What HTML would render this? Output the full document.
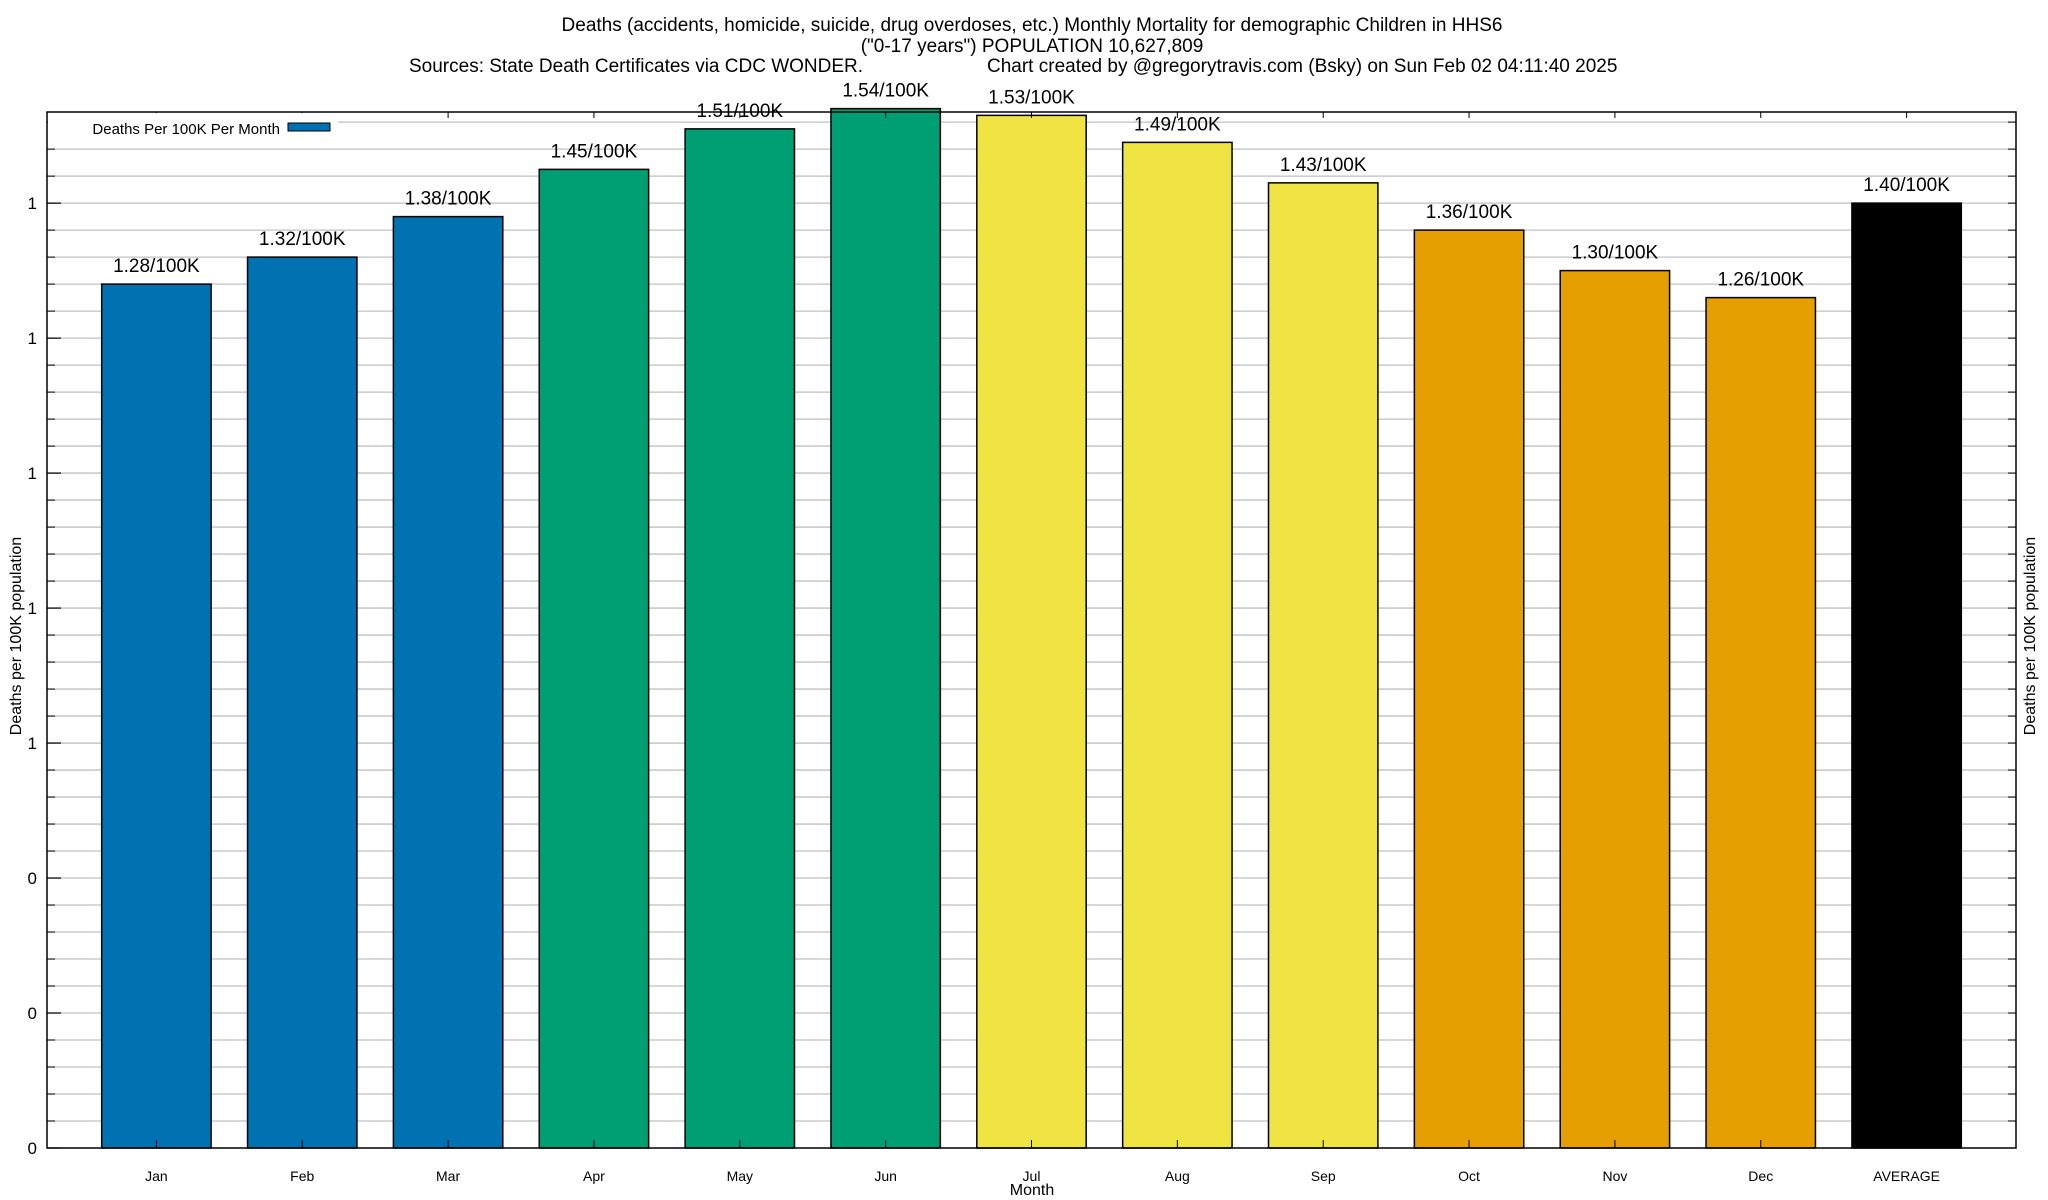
<!DOCTYPE html>
<html><head><meta charset="utf-8"><style>
html,body{margin:0;padding:0;background:#fff;}
svg{display:block;font-family:"Liberation Sans",Arial,sans-serif;}
</style></head><body>
<svg id="chart" width="2048" height="1200" viewBox="0 0 2048 1200">
<g font-size="19" fill="#000">
<text x="1032" y="31" text-anchor="middle">Deaths (accidents, homicide, suicide, drug overdoses, etc.) Monthly Mortality for demographic Children in HHS6</text>
<text x="1032" y="52" text-anchor="middle">("0-17 years") POPULATION 10,627,809</text>
<text x="409" y="72">Sources: State Death Certificates via CDC WONDER.</text>
<text x="987" y="72">Chart created by @gregorytravis.com (Bsky) on Sun Feb 02 04:11:40 2025</text>
</g>
<g id="grid"></g>
<g id="bars"></g>
<g id="axes"></g>
<rect x="48" y="113" width="290" height="22" fill="#fff"/>
<g>
<text x="280" y="134" font-size="15" text-anchor="end">Deaths Per 100K Per Month</text>
<rect x="288" y="123" width="42" height="8" fill="#0072b2" stroke="#000" stroke-width="1"/>
</g>
<text transform="translate(21,636) rotate(-90)" font-size="16" text-anchor="middle">Deaths per 100K population</text>
<text transform="translate(2035,636) rotate(-90)" font-size="16" text-anchor="middle">Deaths per 100K population</text>
<text x="1032" y="1195" font-size="16" text-anchor="middle">Month</text>
</svg>
<script>
const categories = ["Jan","Feb","Mar","Apr","May","Jun","Jul","Aug","Sep","Oct","Nov","Dec","AVERAGE"];
const values = [1.28,1.32,1.38,1.45,1.51,1.54,1.53,1.49,1.43,1.36,1.30,1.26,1.40];
const valueLabels = ["1.28/100K","1.32/100K","1.38/100K","1.45/100K","1.51/100K","1.54/100K","1.53/100K","1.49/100K","1.43/100K","1.36/100K","1.30/100K","1.26/100K","1.40/100K"];
const barColors = ["#0072b2","#0072b2","#0072b2","#009e73","#009e73","#009e73","#f0e442","#f0e442","#f0e442","#e69f00","#e69f00","#e69f00","#000000"];
const yTicks = [0,0.2,0.4,0.6,0.8,1.0,1.2,1.4];
const yTickLabels = ["0","0","0","1","1","1","1","1"];

const NS="http://www.w3.org/2000/svg";
const L=47,R=2016,T=112,B=1148;
const yMax=1.535;
function y(v){return B-(v/yMax)*(B-T);}
const xMin=-0.75,xMax=categories.length-0.25;
function x(i){return L+(i-xMin)/(xMax-xMin)*(R-L);}
const unit=(R-L)/(xMax-xMin);
function mk(tag,attrs,parent){const e=document.createElementNS(NS,tag);for(const k in attrs)e.setAttribute(k,attrs[k]);parent.appendChild(e);return e;}
const grid=document.getElementById('grid'),bars=document.getElementById('bars'),axes=document.getElementById('axes');
for(let k=1;k*0.04<yMax-0.001;k++){
  const v=k*0.04;
  const g=mk('line',{x1:L,x2:R,y1:y(v),y2:y(v),stroke:'#c0c0c0','stroke-width':1.3},grid);
  
  
  const t1=mk('line',{x1:L,x2:L+8,y1:y(v),y2:y(v),stroke:'#000','stroke-width':1},axes);
  
  
  const t2=mk('line',{x1:R-8,x2:R,y1:y(v),y2:y(v),stroke:'#000','stroke-width':1},axes);
  
  
}
yTicks.forEach((v,i)=>{
  const t=mk('line',{x1:L,x2:L+14,y1:y(v),y2:y(v),stroke:'#000','stroke-width':1.2},axes);
  
  
  const lb=mk('text',{x:L-10,y:y(v)+6,'font-size':17,'text-anchor':'end'},axes);
  lb.textContent=yTickLabels[i];
  
  
});
categories.forEach((c,i)=>{
  const cx=x(i),w=unit*0.75;
  const r=mk('rect',{x:cx-w/2,y:y(values[i]),width:w,height:B-y(values[i]),fill:barColors[i],stroke:'#000','stroke-width':1.5},bars);
  
  
  const vl=mk('text',{x:cx,y:y(values[i])-12,'font-size':19,'text-anchor':'middle'},bars);
  vl.textContent=valueLabels[i];
  
  
  const xl=mk('text',{x:cx,y:1181,'font-size':14,'text-anchor':'middle'},axes);
  xl.textContent=c;
  
  
  const tb=mk('line',{x1:cx,x2:cx,y1:B,y2:B-8,stroke:'#000','stroke-width':1},axes);
  
  
  const tt=mk('line',{x1:cx,x2:cx,y1:T,y2:T+6,stroke:'#000','stroke-width':1},axes);
  
  
});
const frame=mk('rect',{x:L,y:T,width:R-L,height:B-T,fill:'none',stroke:'#000','stroke-width':1.5},axes);


</script>
</body></html>
